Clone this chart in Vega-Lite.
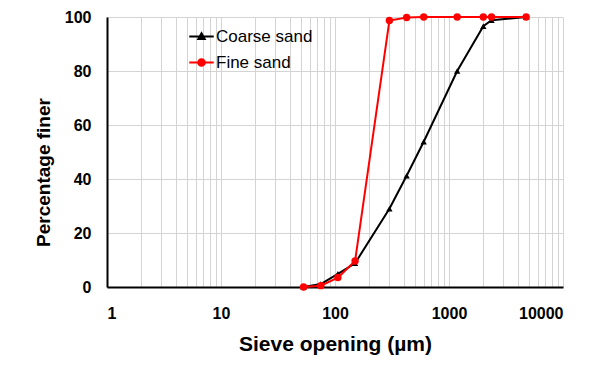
{
  "$schema": "https://vega.github.io/schema/vega-lite/v6.json",
  "width": 456,
  "height": 270,
  "autosize": "none",
  "padding": {"left": 107, "top": 17, "right": 38, "bottom": 83},
  "background": "white",
  "config": {
    "font": "Liberation Sans",
    "view": {"stroke": null},
    "axis": {
      "labelFont": "Liberation Sans",
      "labelFontWeight": "bold",
      "labelFontSize": 16,
      "labelColor": "black",
      "titleFont": "Liberation Sans",
      "titleFontWeight": "bold",
      "titleColor": "black",
      "gridColor": "#d4d4d4",
      "gridWidth": 1,
      "domainColor": "black",
      "domainWidth": 2,
      "ticks": false
    }
  },
  "data": {
    "values": [
      {"series": "Coarse sand", "opening": 53, "finer": 0},
      {"series": "Coarse sand", "opening": 75, "finer": 1.1},
      {"series": "Coarse sand", "opening": 106, "finer": 4.9},
      {"series": "Coarse sand", "opening": 150, "finer": 8.8},
      {"series": "Coarse sand", "opening": 300, "finer": 29},
      {"series": "Coarse sand", "opening": 425, "finer": 41.2},
      {"series": "Coarse sand", "opening": 600, "finer": 53.8},
      {"series": "Coarse sand", "opening": 1180, "finer": 80},
      {"series": "Coarse sand", "opening": 2000, "finer": 96.6},
      {"series": "Coarse sand", "opening": 2360, "finer": 98.8},
      {"series": "Coarse sand", "opening": 4750, "finer": 100},
      {"series": "Fine sand", "opening": 53, "finer": 0},
      {"series": "Fine sand", "opening": 75, "finer": 0.5},
      {"series": "Fine sand", "opening": 106, "finer": 3.5},
      {"series": "Fine sand", "opening": 150, "finer": 9.6},
      {"series": "Fine sand", "opening": 300, "finer": 98.7},
      {"series": "Fine sand", "opening": 425, "finer": 99.8},
      {"series": "Fine sand", "opening": 600, "finer": 100},
      {"series": "Fine sand", "opening": 1180, "finer": 100},
      {"series": "Fine sand", "opening": 2000, "finer": 100},
      {"series": "Fine sand", "opening": 2360, "finer": 100},
      {"series": "Fine sand", "opening": 4750, "finer": 100}
    ]
  },
  "encoding": {
    "x": {
      "field": "opening",
      "type": "quantitative",
      "scale": {"type": "log", "domain": [1, 10000], "nice": false},
      "axis": {
        "title": "Sieve opening (µm)",
        "titleFontSize": 21,
        "titlePadding": 12,
        "format": "d",
        "values": [1, 2, 3, 4, 5, 6, 7, 8, 9, 10, 20, 30, 40, 50, 60, 70, 80, 90, 100, 200, 300, 400, 500, 600, 700, 800, 900, 1000, 2000, 3000, 4000, 5000, 6000, 7000, 8000, 9000, 10000],
        "labelExpr": "indexof(['1','10','100','1000','10000'], datum.label) >= 0 ? datum.label : ''",
        "labelOverlap": false,
        "labelPadding": 18,
        "labelBaseline": "top"
      }
    },
    "y": {
      "field": "finer",
      "type": "quantitative",
      "scale": {"domain": [0, 100], "nice": false},
      "axis": {
        "title": "Percentage finer",
        "titleFontSize": 19,
        "titleAngle": -90,
        "titleBaseline": "alphabetic",
        "titleAlign": "center",
        "titleX": -58,
        "titleY": 155,
        "values": [0, 20, 40, 60, 80, 100],
        "labelPadding": 16
      }
    },
    "color": {
      "field": "series",
      "type": "nominal",
      "scale": {"domain": ["Coarse sand", "Fine sand"], "range": ["black", "#ff0000"]},
      "legend": {
        "title": null,
        "orient": "none",
        "legendX": 81,
        "legendY": 6,
        "padding": 0,
        "labelFont": "Liberation Sans",
        "labelFontSize": 17,
        "labelColor": "black",
        "labelOffset": 1,
        "symbolSize": 600,
        "symbolStrokeWidth": 2,
        "rowPadding": 4,
        "encode": {
          "symbols": {
            "update": {
              "shape": {"signal": "datum.value === 'Coarse sand' ? 'M-1,0L1,0M0,-0.26L0.26,0.2L-0.26,0.2Z' : 'M-1,0L1,0M-0.27,0A0.27,0.27 0 1,0 0.27,0A0.27,0.27 0 1,0 -0.27,0'"},
              "fill": {"signal": "datum.value === 'Coarse sand' ? 'black' : '#ff0000'"},
              "fillOpacity": {"value": 1}
            }
          }
        }
      }
    }
  },
  "layer": [
    {
      "transform": [{"filter": "datum.series === 'Coarse sand'"}],
      "mark": {"type": "line", "strokeWidth": 2}
    },
    {
      "transform": [{"filter": "datum.series === 'Coarse sand'"}],
      "mark": {"type": "point", "shape": "triangle-up", "filled": true, "size": 40, "opacity": 1}
    },
    {
      "transform": [{"filter": "datum.series === 'Fine sand'"}],
      "mark": {"type": "line", "strokeWidth": 2}
    },
    {
      "transform": [{"filter": "datum.series === 'Fine sand'"}],
      "mark": {"type": "point", "shape": "circle", "filled": true, "size": 55, "opacity": 1}
    }
  ]
}
